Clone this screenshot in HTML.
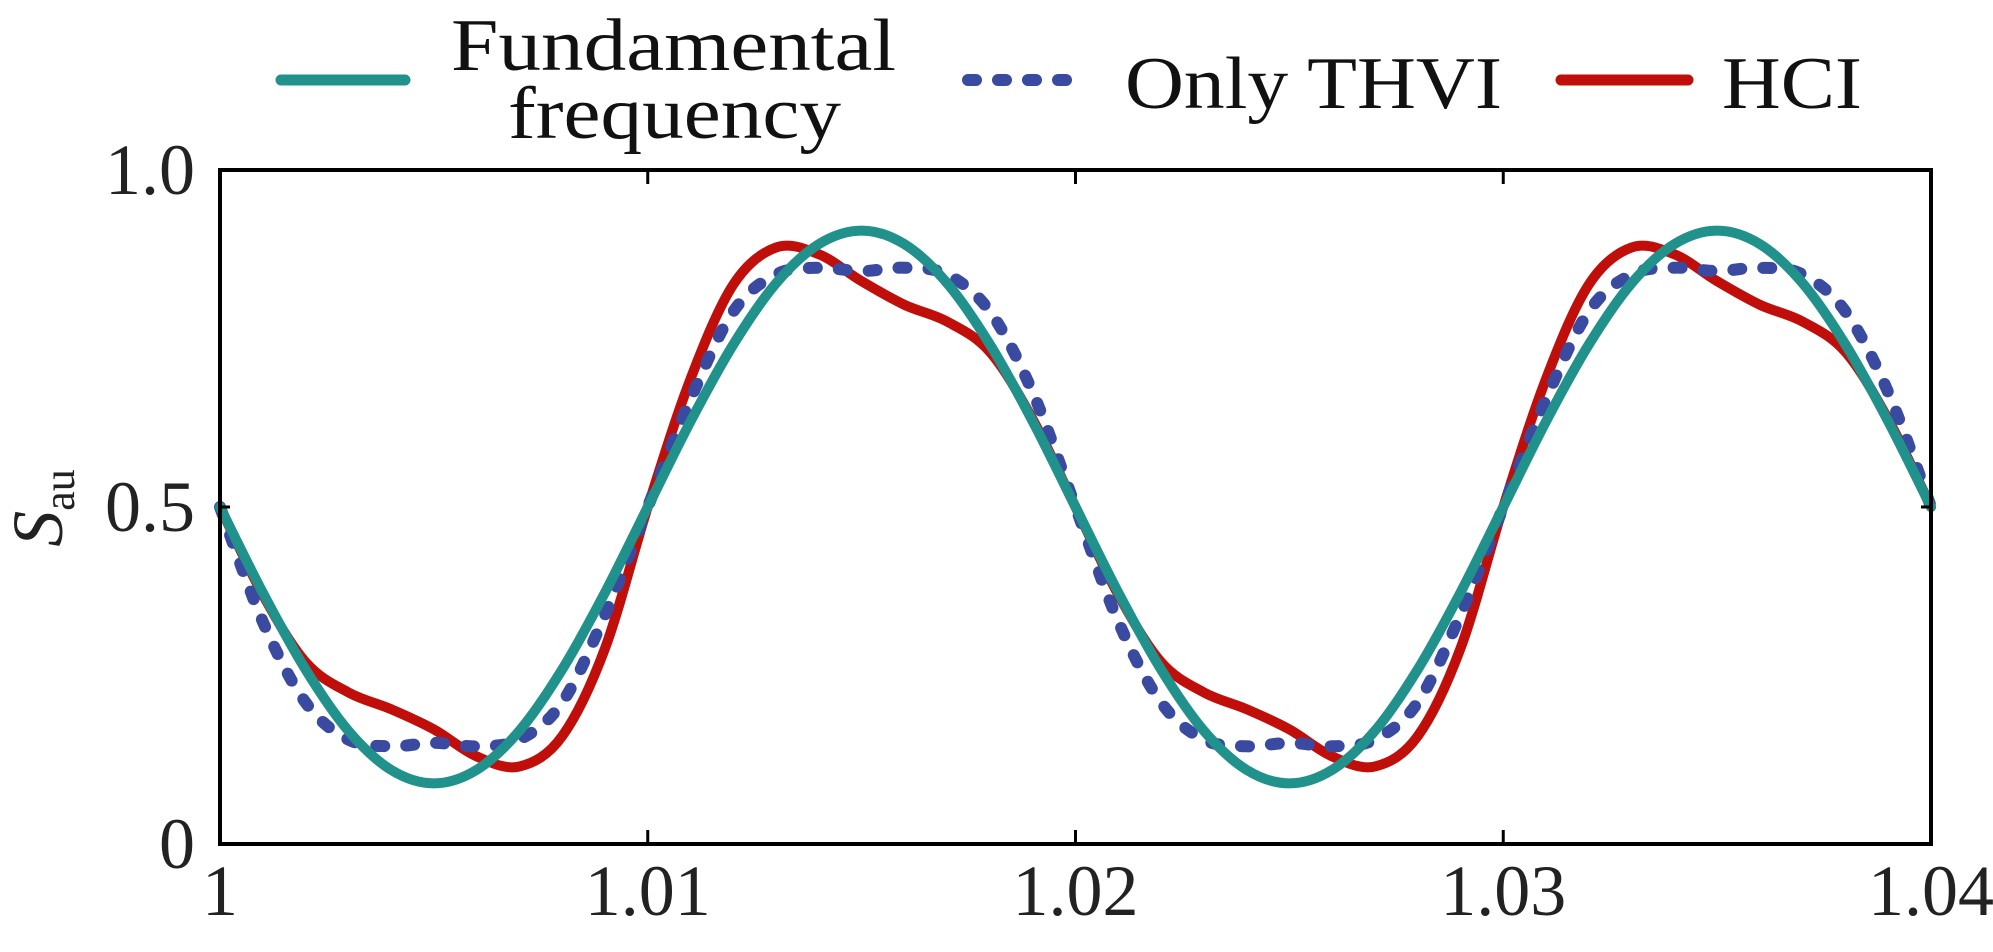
<!DOCTYPE html>
<html><head><meta charset="utf-8"><style>
html,body{margin:0;padding:0;background:#fff;}
svg{display:block;font-family:"Liberation Serif",serif;}
</style></head><body>
<svg id="chart" width="1993" height="952" viewBox="0 0 1993 952" xmlns="http://www.w3.org/2000/svg">
<g id="legend">
 <g>
  <line x1="281" y1="80" x2="405" y2="80" stroke="#21918c" stroke-width="11" stroke-linecap="round"/>
  <text x="451" y="70" font-size="74" fill="#111" textLength="445" lengthAdjust="spacingAndGlyphs">Fundamental</text>
  <text x="508" y="138" font-size="74" fill="#111" textLength="333" lengthAdjust="spacingAndGlyphs">frequency</text>
 </g>
 <g>
  <line x1="968" y1="80" x2="1087" y2="80" stroke="#3a4aa0" stroke-width="12" stroke-linecap="round" stroke-dasharray="8 22"/>
  <text x="1125" y="108" font-size="74" fill="#111" textLength="377" lengthAdjust="spacingAndGlyphs">Only THVI</text>
 </g>
 <g>
  <line x1="1561" y1="80" x2="1688" y2="80" stroke="#c00f0a" stroke-width="11" stroke-linecap="round"/>
  <text x="1722" y="108" font-size="74" fill="#111" textLength="140" lengthAdjust="spacingAndGlyphs">HCI</text>
 </g>
</g>
<g id="plot"></g>
<g id="axes"></g>
<text transform="translate(62,508) rotate(-90)" text-anchor="middle" font-size="72" fill="#222"><tspan font-style="italic">S</tspan><tspan font-size="44" dy="12">au</tspan></text>
</svg>
<script>
const xTicks=[1,1.01,1.02,1.03,1.04];
const xTickLabels=["1","1.01","1.02","1.03","1.04"];
const yTicks=[0,0.5,1.0];
const yTickLabels=["0","0.5","1.0"];
const xValues=[1,1.001,1.002,1.003,1.004,1.005,1.006,1.007,1.008,1.009,1.01,1.011,1.012,1.013,1.014,1.015,1.016,1.017,1.018,1.019,1.02,1.021,1.022,1.023,1.024,1.025,1.026,1.027,1.028,1.029,1.03,1.031,1.032,1.033,1.034,1.035,1.036,1.037,1.038,1.039,1.04];
const fundamental=[0.5,0.373,0.259,0.168,0.11,0.09,0.11,0.168,0.259,0.373,0.5,0.627,0.741,0.832,0.89,0.91,0.89,0.832,0.741,0.627,0.5,0.373,0.259,0.168,0.11,0.09,0.11,0.168,0.259,0.373,0.5,0.627,0.741,0.832,0.89,0.91,0.89,0.832,0.741,0.627,0.5];
const onlyTHVI=[0.5,0.33,0.21,0.155,0.145,0.15,0.145,0.155,0.21,0.34,0.5,0.66,0.79,0.845,0.855,0.85,0.855,0.845,0.79,0.67,0.5,0.33,0.21,0.155,0.145,0.15,0.145,0.155,0.21,0.34,0.5,0.66,0.79,0.845,0.855,0.85,0.855,0.845,0.79,0.67,0.5];
const hci=[0.5,0.37,0.27,0.225,0.2,0.17,0.13,0.115,0.16,0.29,0.5,0.69,0.83,0.885,0.875,0.835,0.8,0.775,0.73,0.63,0.5,0.37,0.27,0.225,0.2,0.17,0.13,0.115,0.16,0.29,0.5,0.69,0.83,0.885,0.875,0.835,0.8,0.775,0.73,0.63,0.5];

const L=220,R=1931,T=170,B=844;
const sx=v=>L+(v-1)/(0.04)*(R-L);
const sy=v=>B-v*(B-T);
const NS="http://www.w3.org/2000/svg";
function smooth(xs,ys){
 const p=xs.map((x,i)=>[sx(x),sy(ys[i])]);
 let d=`M${p[0][0]},${p[0][1]}`;
 for(let i=0;i<p.length-1;i++){
  const p0=p[i-1]||p[i],p1=p[i],p2=p[i+1],p3=p[i+2]||p[i+1];
  const c1=[p1[0]+(p2[0]-p0[0])/6,p1[1]+(p2[1]-p0[1])/6];
  const c2=[p2[0]-(p3[0]-p1[0])/6,p2[1]-(p3[1]-p1[1])/6];
  d+=` C${c1[0]},${c1[1]} ${c2[0]},${c2[1]} ${p2[0]},${p2[1]}`;
 }
 return d;
}
const plot=document.getElementById('plot');
function addSeries(ys,color,name,dash,w){
 const path=document.createElementNS(NS,'path');
 path.setAttribute('d',smooth(xValues,ys));
 path.setAttribute('fill','none');
 path.setAttribute('stroke',color);
 path.setAttribute('stroke-width',w);
 path.setAttribute('stroke-linecap','round');
 path.setAttribute('stroke-linejoin','round');
 if(dash)path.setAttribute('stroke-dasharray',dash);
 
 
 plot.appendChild(path);
}
addSeries(hci,'#c00f0a','hci-line',null,'10');
addSeries(onlyTHVI,'#3a4aa0','only-thvi-line','8 22','12');
addSeries(fundamental,'#21918c','fundamental-line',null,'10');

const axes=document.getElementById('axes');
const frame=document.createElementNS(NS,'rect');
frame.setAttribute('x',L);frame.setAttribute('y',T);
frame.setAttribute('width',R-L);frame.setAttribute('height',B-T);
frame.setAttribute('fill','none');frame.setAttribute('stroke','#000');frame.setAttribute('stroke-width','4');


axes.appendChild(frame);
function line(x1,y1,x2,y2,name){
 const l=document.createElementNS(NS,'line');
 l.setAttribute('x1',x1);l.setAttribute('y1',y1);l.setAttribute('x2',x2);l.setAttribute('y2',y2);
 l.setAttribute('stroke','#000');l.setAttribute('stroke-width','3');
 
 
 axes.appendChild(l);
}
xTicks.forEach((v,i)=>{
 const x=sx(v);
 line(x,B,x,B-14,'x-tick');
 line(x,T,x,T+14,'x-tick-top');
 const t=document.createElementNS(NS,'text');
 t.setAttribute('x',x);t.setAttribute('y',915);
 t.setAttribute('text-anchor','middle');t.setAttribute('font-size','72');t.setAttribute('fill','#222');
 t.textContent=xTickLabels[i];
 
 
 axes.appendChild(t);
});
yTicks.forEach((v,i)=>{
 const y=sy(v);
 line(L,y,L+10,y,'y-tick');
 line(R,y,R-10,y,'y-tick-right');
 const t=document.createElementNS(NS,'text');
 t.setAttribute('x',195);t.setAttribute('y',y+24);
 t.setAttribute('text-anchor','end');t.setAttribute('font-size','72');t.setAttribute('fill','#222');
 t.textContent=yTickLabels[i];
 
 
 axes.appendChild(t);
});
</script>
</body></html>
